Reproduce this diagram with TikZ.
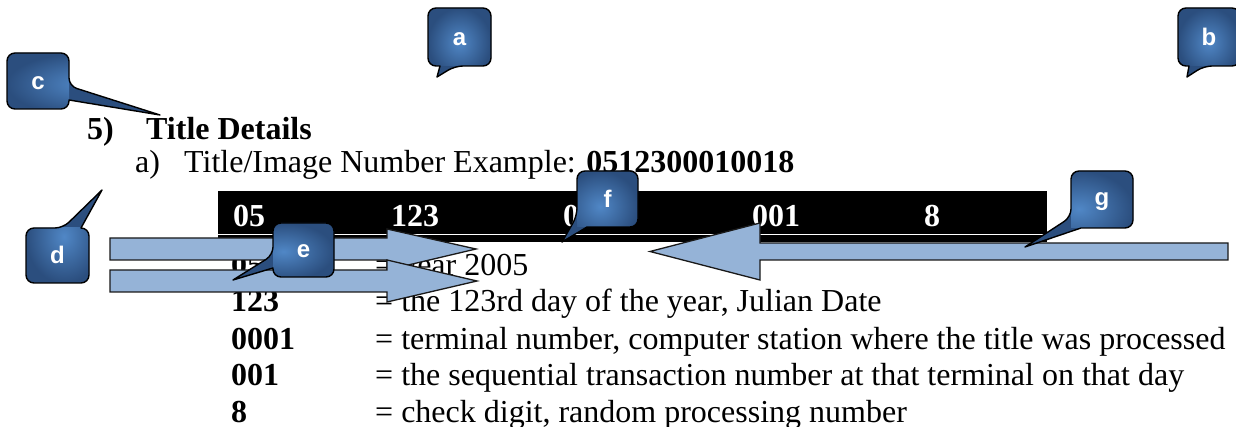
\documentclass[tikz,border=0pt]{standalone}
\usepackage{fontspec}
\setmainfont{Liberation Serif}
\newfontfamily\calfont{Liberation Sans}
\definecolor{arrowfill}{HTML}{95B3D7}
\definecolor{callLight}{HTML}{5087C6}
\definecolor{callDark}{HTML}{2B4E7E}
\begin{document}
\begin{tikzpicture}[x=1pt,y=-1pt,
  txt/.style={anchor=base west, inner sep=0pt, font=\fontsize{32}{38}\selectfont},
  btxt/.style={anchor=base west, inner sep=0pt, font=\fontsize{32}{38}\selectfont\bfseries},
  bartxt/.style={btxt, text=white},
  blockarrow/.style={draw=black!90, line width=1.3pt, fill=arrowfill, line join=miter},
  callshape/.style={draw=black, line width=1.4pt, fill=callDark, line join=round},
  calltxt/.style={anchor=base, inner sep=0pt, text=white, font=\calfont\fontsize{24}{28}\selectfont\bfseries}
]
\useasboundingbox (0,0) rectangle (1236,427);

% heading and example line
\node[btxt] (h5) at (87,140) {5)};
\node[btxt] (htitle) at (146,140) {Title Details};
\node[txt] (ha) at (135,173) {a)};
\node[txt] (hex) at (184,173) {Title/Image Number Example: \textbf{0512300010018}};

% body rows
\node[btxt] (k1) at (231,275.5) {05};
\node[txt]  (v1) at (375,275.5) {= year 2005};
\node[btxt] (k2) at (231,312) {123};
\node[txt]  (v2) at (375,312) {= the 123rd day of the year, Julian Date};
\node[btxt] (k3) at (231,349) {0001};
\node[txt]  (v3) at (375,349) {= terminal number, computer station where the title was processed};
\node[btxt] (k4) at (231,385.5) {001};
\node[txt]  (v4) at (375,385.5) {= the sequential transaction number at that terminal on that day};
\node[btxt] (k5) at (231,422) {8};
\node[txt]  (v5) at (375,422) {= check digit, random processing number};

% black bar
\fill[black] (218,191) rectangle (1047,242);
\draw[white, line width=1.5pt] (218,234.5) -- (1047,234.5);
\node[bartxt] (b1) at (233,227) {05};
\node[bartxt] (b2) at (391,227) {123};
\node[bartxt] (b3) at (563,227) {0001};
\node[bartxt] (b4) at (752,227) {001};
\node[bartxt] (b5) at (924,227) {8};

% block arrows
\draw[blockarrow] (110,238) -- (387,238) -- (387,229) -- (476,249) -- (387,270) -- (387,260) -- (110,260) -- cycle;
\draw[blockarrow] (110,270) -- (387,270) -- (387,260) -- (477,281) -- (387,302) -- (387,292) -- (110,292) -- cycle;
\draw[blockarrow] (1228,243) -- (760,243) -- (760,223) -- (650,251.5) -- (760,280) -- (760,260) -- (1228,260) -- cycle;

% callouts
\path[callshape, path picture={\shade[inner color=callLight, outer color=callDark] (428,8) rectangle (491,66);}]
  (437,77) -- (440,66) [rounded corners=8pt] -- (428,66) -- (428,8) -- (491,8) -- (491,66) -- (455,66) [sharp corners] -- cycle;
\node[calltxt] (la) at (459.5,46) {a};

\path[callshape, path picture={\shade[inner color=callLight, outer color=callDark] (1178,8) rectangle (1240,66);}]
  (1187,77) -- (1189,66) [rounded corners=8pt] -- (1178,66) -- (1178,8) -- (1240,8) -- (1240,66) -- (1204,66) [sharp corners] -- cycle;
\node[calltxt] (lb) at (1209,46) {b};

\path[callshape, path picture={\shade[inner color=callLight, outer color=callDark] (7,53) rectangle (69,109);}]
  (160,115) -- (69,100) [rounded corners=8pt] -- (69,109) -- (7,109) -- (7,53) -- (69,53) -- (69,86) [sharp corners] -- cycle;
\node[calltxt] (lc) at (38,90) {c};

\path[callshape, path picture={\shade[inner color=callLight, outer color=callDark] (26,228) rectangle (89,283);}]
  (102,190) -- (81,228) [rounded corners=8pt] -- (89,228) -- (89,283) -- (26,283) -- (26,228) -- (63,228) [sharp corners] -- cycle;
\node[calltxt] (ld) at (57.5,264) {d};

\path[callshape, path picture={\shade[inner color=callLight, outer color=callDark] (273,223) rectangle (334,277);}]
  (233,280) -- (273,268) [rounded corners=8pt] -- (273,277) -- (334,277) -- (334,223) -- (273,223) -- (273,255) [sharp corners] -- cycle;
\node[calltxt] (le) at (303.5,258) {e};

\path[callshape, path picture={\shade[inner color=callLight, outer color=callDark] (577,171) rectangle (638,227);}]
  (562,242) -- (587,227) [rounded corners=8pt] -- (638,227) -- (638,171) -- (577,171) -- (577,216) [sharp corners] -- cycle;
\node[calltxt] (lf) at (607.5,208) {f};

\path[callshape, path picture={\shade[inner color=callLight, outer color=callDark] (1071,171) rectangle (1133,228);}]
  (1025,247) -- (1081,228) [rounded corners=8pt] -- (1133,228) -- (1133,171) -- (1071,171) -- (1071,217) [sharp corners] -- cycle;
\node[calltxt] (lg) at (1102,206) {g};
\end{tikzpicture}
\end{document}
